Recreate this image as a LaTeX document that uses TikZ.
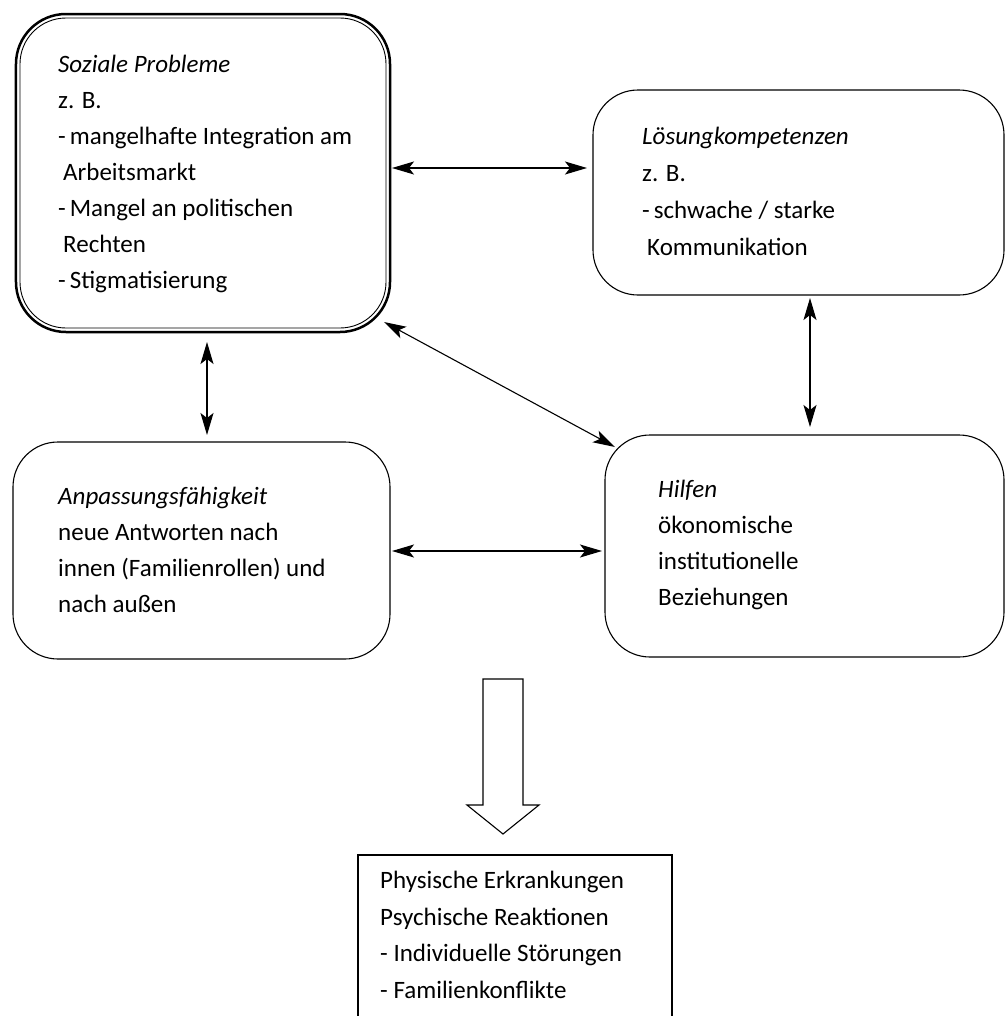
\documentclass[tikz,border=0pt]{standalone}
\usepackage{fontspec}
\setmainfont{Carlito}
\usetikzlibrary{arrows.meta}
\begin{document}
\begin{tikzpicture}[x=1bp,y=-1bp,
  box/.style={draw, line width=1.1bp, rounded corners=45bp, inner sep=0pt, outer sep=0pt},
  txt/.style={anchor=base west, align=left, inner sep=0pt, font=\fontsize{25bp}{36bp}\selectfont},
  biarrow/.style={{Stealth[length=22bp,width=13bp,inset=5bp]}-{Stealth[length=22bp,width=13bp,inset=5bp]}, line width=1.1bp}]
\clip (0,0) rectangle (1007,1016);

% boxes
\node[box, line width=2.5bp, rounded corners=50bp, minimum width=374bp, minimum height=318bp] (soz) at (203,173) {};
\draw[line width=0.9bp, rounded corners=46bp] ([xshift=4bp,yshift=-4bp]soz.north west) rectangle ([xshift=-4bp,yshift=4bp]soz.south east);
\node[box, minimum width=411bp, minimum height=205bp] (los) at (798.5,192.5) {};
\node[box, minimum width=377bp, minimum height=217bp] (anp) at (201.5,550.5) {};
\node[box, minimum width=399bp, minimum height=222bp] (hil) at (804.5,546) {};
\node[draw, line width=1.1bp, inner sep=0pt, outer sep=0pt, minimum width=314bp, minimum height=245bp] (out) at (515,977.5) {};

% texts (anchor = baseline of the last line)
\node[txt] (tsoz) at (58,288) {\textit{Soziale Probleme}\\z. B.\\-\hspace{4bp}mangelhafte Integration am\\\hspace*{5bp}Arbeitsmarkt\\-\hspace{4bp}Mangel an politischen\\\hspace*{5bp}Rechten\\-\hspace{4bp}Stigmatisierung};
\node[txt, font=\fontsize{25bp}{36.7bp}\selectfont] (tlos) at (642,255) {\textit{Lösungkompetenzen}\\z. B.\\-\hspace{4bp}schwache / starke\\\hspace*{5bp}Kommunikation};
\node[txt, font=\fontsize{25bp}{35.7bp}\selectfont] (tanp) at (58,612) {\textit{Anpassungsfähigkeit}\\neue Antworten nach\\innen (Familienrollen) und\\nach außen};
\node[txt] (thil) at (658,605) {\textit{Hilfen}\\ökonomische\\institutionelle\\Beziehungen};
\node[txt, font=\fontsize{25bp}{36.5bp}\selectfont] (tout) at (380,998) {Physische Erkrankungen\\Psychische Reaktionen\\- Individuelle Störungen\\- Familienkonflikte};

% connectors
\coordinate (ya) at (0,168);
\coordinate (yb) at (0,551);
\coordinate (xa) at (207,0);
\coordinate (xb) at (810,0);
\draw[biarrow, shorten <=2bp, shorten >=6bp] (soz.east |- ya) -- (los.west |- ya);
\draw[biarrow, shorten <=2bp, shorten >=3bp] (anp.east |- yb) -- (hil.west |- yb);
\draw[biarrow, shorten <=10bp, shorten >=7bp] (soz.south -| xa) -- (anp.north -| xa);
\draw[biarrow, shorten <=3bp, shorten >=8bp] (los.south -| xb) -- (hil.north -| xb);
\draw[biarrow] ([xshift=-6bp,yshift=10bp]soz.south east) -- ([xshift=10bp,yshift=-12bp]hil.north west);

% block arrow
\draw[line width=1.1bp, line join=miter] (483,679) -- (523,679) -- (523,805) -- (539,805) -- (503,834) -- (467,805) -- (483,805) -- cycle;
\end{tikzpicture}
\end{document}
